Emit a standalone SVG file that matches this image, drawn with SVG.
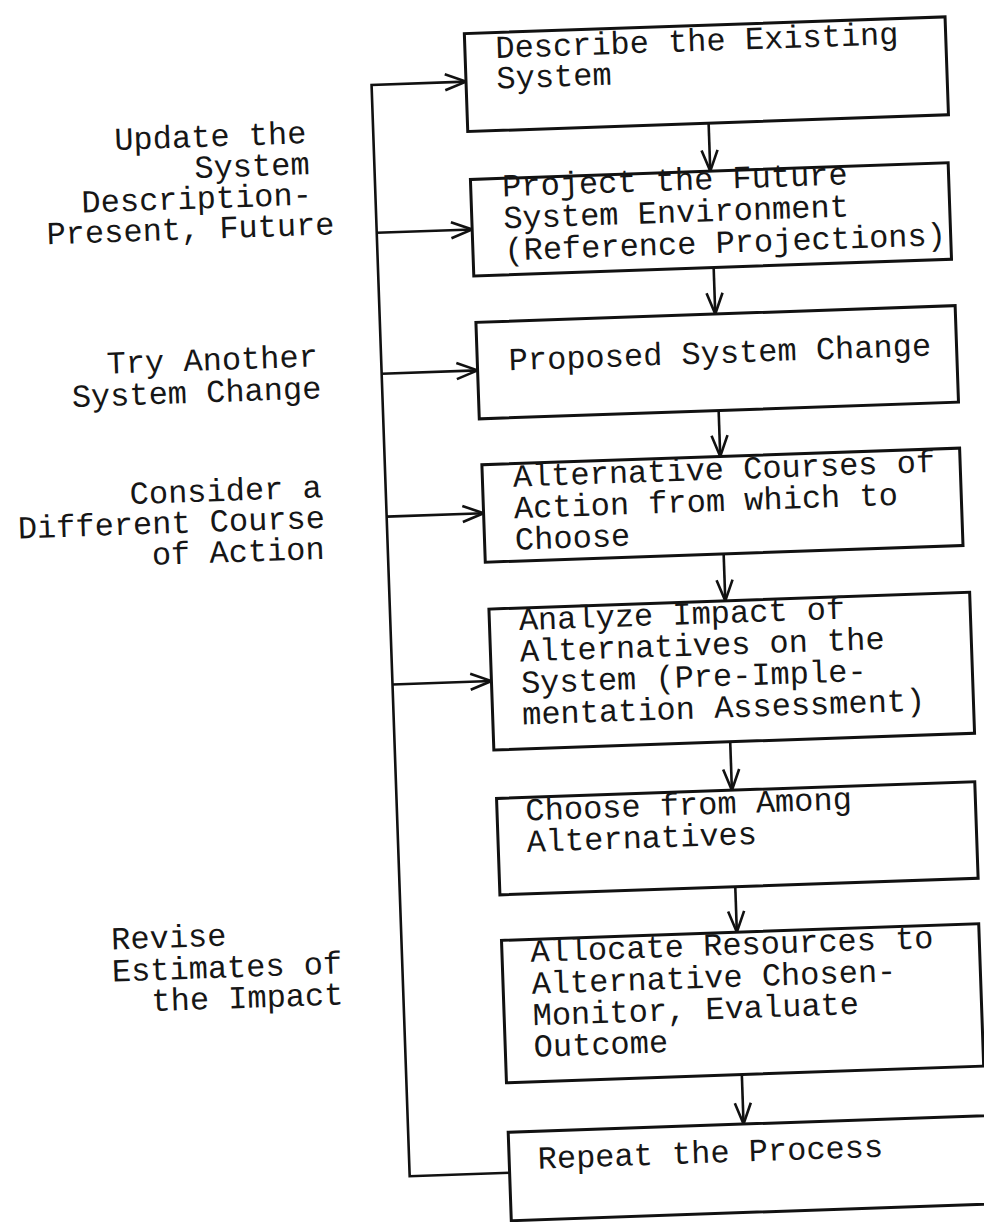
<svg xmlns="http://www.w3.org/2000/svg" width="984" height="1222" viewBox="0 0 984 1222">
<style>
.box{fill:#fff;stroke:#111;stroke-width:3}
.t{font-family:"Liberation Mono","Courier New",monospace;font-size:32px;fill:#161616}
.c{fill:none;stroke:#111;stroke-width:2.6}
</style>
<defs>
<marker id="ah" markerUnits="userSpaceOnUse" viewBox="-24 -11 27 22" markerWidth="27" markerHeight="22" refX="0" refY="0" orient="auto">
<path d="M-21,-8 L0,0 L-21,8" fill="none" stroke="#111" stroke-width="2.6"/>
</marker>
</defs>
<rect width="984" height="1222" fill="#fff"/>
<g transform="rotate(-2 492 611)">
<g id="connectors">
<path class="c" d="M490,1173 H390 V81 H484.5" marker-end="url(#ah)"/>
<path class="c" d="M390,229 H485.5" marker-end="url(#ah)"/>
<path class="c" d="M390,370 H486" marker-end="url(#ah)"/>
<path class="c" d="M390,513 H487" marker-end="url(#ah)"/>
<path class="c" d="M390,681 H489" marker-end="url(#ah)"/>
<path class="c" d="M725.5,131 V179" marker-end="url(#ah)"/>
<path class="c" d="M725.5,275.5 V322" marker-end="url(#ah)"/>
<path class="c" d="M725.5,418.5 V464.5" marker-end="url(#ah)"/>
<path class="c" d="M725.5,562 V609" marker-end="url(#ah)"/>
<path class="c" d="M725.5,750 V798.5" marker-end="url(#ah)"/>
<path class="c" d="M725.5,895 V940.5" marker-end="url(#ah)"/>
<path class="c" d="M725.5,1083 V1132.5" marker-end="url(#ah)"/>
</g>
<g id="n1">
<rect class="box" x="484.5" y="33" width="481" height="98"/>
<text class="t"><tspan x="515" y="58.5">Describe the Existing</tspan><tspan x="515" y="89">System</tspan></text>
</g>
<g id="n2">
<rect class="box" x="485.5" y="179" width="478" height="96.5"/>
<text class="t"><tspan x="517" y="197">Project the Future</tspan><tspan x="517" y="229">System Environment</tspan><tspan x="517" y="261">(Reference Projections)</tspan></text>
</g>
<g id="n3">
<rect class="box" x="486" y="322" width="479.5" height="96.5"/>
<text class="t"><tspan x="517.5" y="371">Proposed System Change</tspan></text>
</g>
<g id="n4">
<rect class="box" x="487" y="464.5" width="478" height="97.5"/>
<text class="t"><tspan x="517.5" y="487.5">Alternative Courses of</tspan><tspan x="517.5" y="519">Action from which to</tspan><tspan x="517.5" y="550.5">Choose</tspan></text>
</g>
<g id="n5">
<rect class="box" x="489" y="609" width="481" height="141"/>
<text class="t"><tspan x="518.5" y="631">Analyze Impact of</tspan><tspan x="518.5" y="662.5">Alternatives on the</tspan><tspan x="518.5" y="694">System (Pre-Imple-</tspan><tspan x="518.5" y="725.5">mentation Assessment)</tspan></text>
</g>
<g id="n6">
<rect class="box" x="490" y="798.5" width="478.5" height="96.5"/>
<text class="t"><tspan x="518.5" y="821.5">Choose from Among</tspan><tspan x="518.5" y="853">Alternatives</tspan></text>
</g>
<g id="n7">
<rect class="box" x="490" y="940.5" width="477.5" height="142.5"/>
<text class="t"><tspan x="518.5" y="963">Allocate Resources to</tspan><tspan x="518.5" y="995">Alternative Chosen-</tspan><tspan x="518.5" y="1026.5">Monitor, Evaluate</tspan><tspan x="518.5" y="1058">Outcome</tspan></text>
</g>
<g id="n8">
<rect class="box" x="490" y="1132.5" width="600" height="88.5"/>
<text class="t"><tspan x="518.5" y="1170">Repeat the Process</tspan></text>
</g>
<g id="labels">
<text class="t"><tspan x="131" y="137">Update the</tspan><tspan x="210" y="168">System</tspan><tspan x="96" y="198.5">Description-</tspan><tspan x="60" y="229">Present, Future</tspan></text>
<text class="t"><tspan x="115.5" y="360.5">Try Another</tspan><tspan x="79.5" y="392.5">System Change</tspan></text>
<text class="t"><tspan x="134" y="491.5">Consider a</tspan><tspan x="21" y="522">Different Course</tspan><tspan x="154" y="553">of Action</tspan></text>
<text class="t"><tspan x="100" y="936">Revise</tspan><tspan x="99.5" y="968">Estimates of</tspan><tspan x="138" y="999">the Impact</tspan></text>
</g>
</g>
</svg>
